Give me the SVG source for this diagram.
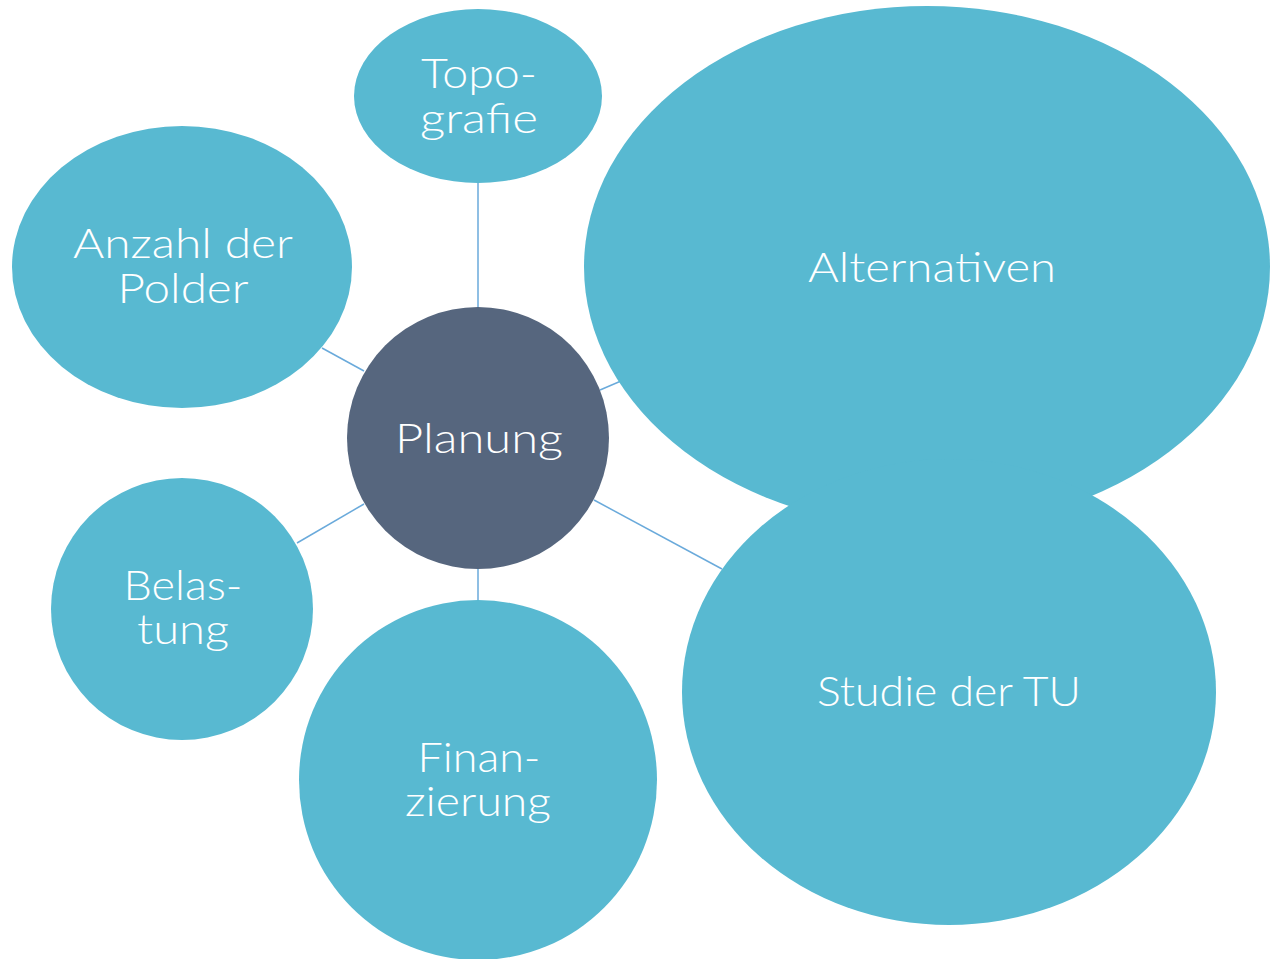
<svg xmlns="http://www.w3.org/2000/svg" width="1270" height="959" viewBox="0 0 1270 959">
<style>
.n{fill:#58b9d1}
.c{fill:#56667e}
.t{fill:#ffffff;font-family:"Lato","Open Sans","DejaVu Sans",sans-serif;font-weight:300;font-size:41px;text-anchor:middle}
.l{stroke:#6aaadb;stroke-width:1.5;fill:none}
</style>
<rect width="1270" height="959" fill="#ffffff"/>
<g id="connectors">
<line class="l" x1="478" y1="183" x2="478" y2="307"/>
<line class="l" x1="322" y1="348" x2="364" y2="371"/>
<line class="l" x1="297" y1="543" x2="364" y2="504"/>
<line class="l" x1="478" y1="569" x2="478" y2="600"/>
<line class="l" x1="600" y1="390" x2="621" y2="381"/>
<line class="l" x1="594" y1="500" x2="722" y2="569"/>
</g>
<g id="planung"><circle class="c" cx="478" cy="438" r="131"/><text class="t" x="479" y="453" textLength="168" lengthAdjust="spacingAndGlyphs">Planung</text></g>
<g id="topografie"><ellipse class="n" cx="478" cy="96" rx="124" ry="87"/><text class="t" x="479" y="88" textLength="116" lengthAdjust="spacingAndGlyphs">Topo-</text><text class="t" x="479" y="133" textLength="118" lengthAdjust="spacingAndGlyphs">grafie</text></g>
<g id="anzahl"><ellipse class="n" cx="182" cy="267" rx="170" ry="141"/><text class="t" x="183" y="258" textLength="220" lengthAdjust="spacingAndGlyphs">Anzahl der</text><text class="t" x="183" y="303" textLength="131" lengthAdjust="spacingAndGlyphs">Polder</text></g>
<g id="alternativen"><ellipse class="n" cx="927" cy="267" rx="343" ry="261"/><text class="t" x="932" y="282" textLength="248" lengthAdjust="spacingAndGlyphs">Alternativen</text></g>
<g id="studie"><ellipse class="n" cx="949" cy="692" rx="267" ry="233"/><text class="t" x="949" y="706" textLength="264" lengthAdjust="spacingAndGlyphs">Studie der TU</text></g>
<g id="belastung"><circle class="n" cx="182" cy="609" r="131"/><text class="t" x="183" y="600" textLength="119" lengthAdjust="spacingAndGlyphs">Belas-</text><text class="t" x="183" y="644" textLength="92" lengthAdjust="spacingAndGlyphs">tung</text></g>
<g id="finanzierung"><ellipse class="n" cx="478" cy="780" rx="179" ry="180"/><text class="t" x="479" y="772" textLength="123" lengthAdjust="spacingAndGlyphs">Finan-</text><text class="t" x="478" y="816" textLength="146" lengthAdjust="spacingAndGlyphs">zierung</text></g>
</svg>
